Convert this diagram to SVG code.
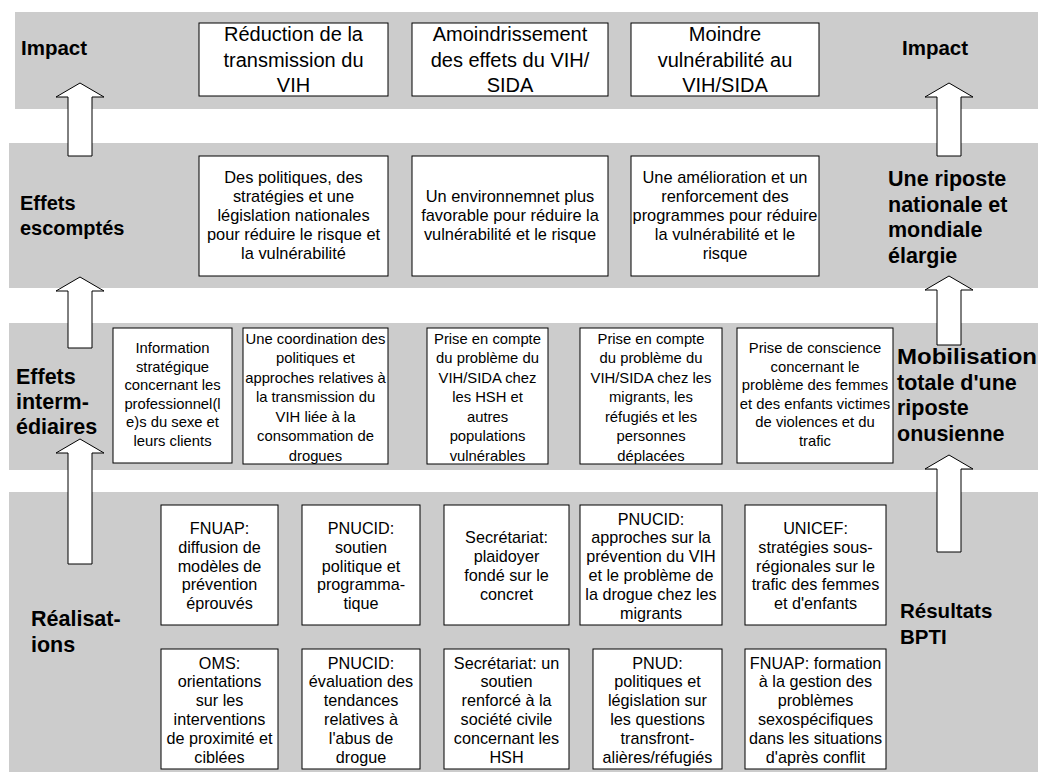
<svg xmlns="http://www.w3.org/2000/svg" width="1053" height="773" viewBox="0 0 1053 773">
<style>
.band{fill:#cccccc;stroke:none}
.box{fill:#ffffff;stroke:#000000;stroke-width:1}
.arrow{fill:#ffffff;stroke:#000000;stroke-width:1;stroke-linejoin:miter}
.t2{font-family:"Liberation Sans",Arial,sans-serif;font-size:16.4px;fill:#000;text-anchor:middle}
.t3{font-family:"Liberation Sans",Arial,sans-serif;font-size:14.8px;fill:#000;text-anchor:middle}
.t4{font-family:"Liberation Sans",Arial,sans-serif;font-size:16.2px;fill:#000;text-anchor:middle}
.tb{font-family:"Liberation Sans",Arial,sans-serif;font-size:20px;fill:#000;text-anchor:middle}
.lbl{font-family:"Liberation Sans",Arial,sans-serif;font-size:20.5px;font-weight:bold;fill:#000}
.lblr{font-family:"Liberation Sans",Arial,sans-serif;font-size:21.5px;font-weight:bold;fill:#000}
</style>
<rect fill="#ffffff" x="0" y="0" width="1053" height="773"/>
<g id="bands">
<rect class="band" x="15" y="12" width="1023" height="97"/>
<rect class="band" x="9" y="143" width="1029" height="145"/>
<rect class="band" x="9" y="323" width="1029" height="147"/>
<rect class="band" x="9" y="492" width="1029" height="280"/>
</g>
<g id="labels">
<text class="lbl" x="21" y="55">Impact</text>
<text class="lbl" x="902" y="55">Impact</text>
<text class="lbl" x="20" y="210" style="font-size:20px">Effets</text>
<text class="lbl" x="20" y="235" style="font-size:20px">escomptés</text>
<text class="lblr" x="888" y="186">Une riposte</text>
<text class="lblr" x="888" y="212">nationale et</text>
<text class="lblr" x="888" y="237">mondiale</text>
<text class="lblr" x="888" y="263">élargie</text>
<text class="lblr" x="16" y="384">Effets</text>
<text class="lblr" x="16" y="409">interm-</text>
<text class="lblr" x="16" y="434">édiaires</text>
<text class="lblr" x="897" y="364" textLength="140" lengthAdjust="spacingAndGlyphs">Mobilisation</text>
<text class="lblr" x="897" y="390">totale d'une</text>
<text class="lblr" x="897" y="415">riposte</text>
<text class="lblr" x="897" y="441">onusienne</text>
<text class="lblr" x="31" y="626">Réalisat-</text>
<text class="lblr" x="31" y="652">ions</text>
<text class="lbl" x="900" y="618">Résultats</text>
<text class="lbl" x="900" y="644">BPTI</text>
</g>
<g id="connectors">
<polygon class="arrow" points="80,83 104,97 92,97 92,156 68,156 68,97 56,97"/>
<polygon class="arrow" points="80,277 104,291 92,291 92,348 68,348 68,291 56,291"/>
<polygon class="arrow" points="80,439 104,453 92,453 92,564 68,564 68,453 56,453"/>
<polygon class="arrow" points="949,83 973,97 961,97 961,156 937,156 937,97 925,97"/>
<polygon class="arrow" points="949,276 973,290 961,290 961,345 937,345 937,290 925,290"/>
<polygon class="arrow" points="949,455 973,469 961,469 961,552 937,552 937,469 925,469"/>
</g>
<g id="impact1"><rect class="box" x="199" y="23" width="189" height="73"/>
<text class="tb" x="293.5" y="41">Réduction de la</text><text class="tb" x="293.5" y="66.5">transmission du</text><text class="tb" x="293.5" y="92">VIH</text></g>
<g id="impact2"><rect class="box" x="412" y="23" width="196" height="73"/>
<text class="tb" x="510" y="41">Amoindrissement</text><text class="tb" x="510" y="66.5">des effets du VIH/</text><text class="tb" x="510" y="92">SIDA</text></g>
<g id="impact3"><rect class="box" x="631" y="23" width="188" height="73"/>
<text class="tb" x="725" y="41">Moindre</text><text class="tb" x="725" y="66.5">vulnérabilité au</text><text class="tb" x="725" y="92">VIH/SIDA</text></g>

<g id="effet1"><rect class="box" x="199" y="156" width="189" height="120"/>
<text class="t2" x="293.5" y="182.5">Des politiques, des</text><text class="t2" x="293.5" y="201.7">stratégies et une</text><text class="t2" x="293.5" y="220.9">législation nationales</text><text class="t2" x="293.5" y="240.1">pour réduire le risque et</text><text class="t2" x="293.5" y="259.3">la vulnérabilité</text></g>
<g id="effet2"><rect class="box" x="412" y="156" width="196" height="120"/>
<text class="t2" x="510" y="201.7">Un environnemnet plus</text><text class="t2" x="510" y="220.9">favorable pour réduire la</text><text class="t2" x="510" y="240.1">vulnérabilité et le risque</text></g>
<g id="effet3"><rect class="box" x="631" y="156" width="188" height="120"/>
<text class="t2" x="725" y="182.5">Une amélioration et un</text><text class="t2" x="725" y="201.7">renforcement des</text><text class="t2" x="725" y="220.9">programmes pour réduire</text><text class="t2" x="725" y="240.1">la vulnérabilité et le</text><text class="t2" x="725" y="259.3">risque</text></g>

<g id="inter1"><rect class="box" x="113" y="328" width="119" height="135"/>
<text class="t3" x="172.5" y="353">Information</text><text class="t3" x="172.5" y="371.6">stratégique</text><text class="t3" x="172.5" y="390.2">concernant les</text><text class="t3" x="172.5" y="408.8">professionnel(l</text><text class="t3" x="172.5" y="427.4">e)s du sexe et</text><text class="t3" x="172.5" y="446">leurs clients</text></g>
<g id="inter2"><rect class="box" x="243" y="328" width="145" height="136"/>
<text class="t3" x="315.5" y="343.5">Une coordination des</text><text class="t3" x="315.5" y="363">politiques et</text><text class="t3" x="315.5" y="382.5">approches relatives à</text><text class="t3" x="315.5" y="402">la transmission du</text><text class="t3" x="315.5" y="421.5">VIH liée à la</text><text class="t3" x="315.5" y="441">consommation de</text><text class="t3" x="315.5" y="460.5">drogues</text></g>
<g id="inter3"><rect class="box" x="427" y="328" width="121" height="136"/>
<text class="t3" x="487.5" y="343.5">Prise en compte</text><text class="t3" x="487.5" y="363">du problème du</text><text class="t3" x="487.5" y="382.5">VIH/SIDA chez</text><text class="t3" x="487.5" y="402">les HSH et</text><text class="t3" x="487.5" y="421.5">autres</text><text class="t3" x="487.5" y="441">populations</text><text class="t3" x="487.5" y="460.5">vulnérables</text></g>
<g id="inter4"><rect class="box" x="580" y="328" width="142" height="136"/>
<text class="t3" x="651" y="343.5">Prise en compte</text><text class="t3" x="651" y="363">du problème du</text><text class="t3" x="651" y="382.5">VIH/SIDA chez les</text><text class="t3" x="651" y="402">migrants, les</text><text class="t3" x="651" y="421.5">réfugiés et les</text><text class="t3" x="651" y="441">personnes</text><text class="t3" x="651" y="460.5">déplacées</text></g>
<g id="inter5"><rect class="box" x="737" y="328" width="156" height="135"/>
<text class="t3" x="815" y="353">Prise de conscience</text><text class="t3" x="815" y="371.6">concernant le</text><text class="t3" x="815" y="390.2">problème des femmes</text><text class="t3" x="815" y="408.8">et des enfants victimes</text><text class="t3" x="815" y="427.4">de violences et du</text><text class="t3" x="815" y="446">trafic</text></g>

<g id="real1"><rect class="box" x="161" y="505" width="117" height="120"/>
<text class="t4" x="219.5" y="534">FNUAP:</text><text class="t4" x="219.5" y="552.8">diffusion de</text><text class="t4" x="219.5" y="571.6">modèles de</text><text class="t4" x="219.5" y="590.4">prévention</text><text class="t4" x="219.5" y="609.2">éprouvés</text></g>
<g id="real2"><rect class="box" x="302" y="505" width="118" height="120"/>
<text class="t4" x="361" y="534">PNUCID:</text><text class="t4" x="361" y="552.8">soutien</text><text class="t4" x="361" y="571.6">politique et</text><text class="t4" x="361" y="590.4">programma-</text><text class="t4" x="361" y="609.2">tique</text></g>
<g id="real3"><rect class="box" x="444" y="505" width="125" height="120"/>
<text class="t4" x="506.5" y="543.4">Secrétariat:</text><text class="t4" x="506.5" y="562.2">plaidoyer</text><text class="t4" x="506.5" y="581">fondé sur le</text><text class="t4" x="506.5" y="599.8">concret</text></g>
<g id="real4"><rect class="box" x="580" y="505" width="142" height="120"/>
<text class="t4" x="651" y="524.6">PNUCID:</text><text class="t4" x="651" y="543.4">approches sur la</text><text class="t4" x="651" y="562.2">prévention du VIH</text><text class="t4" x="651" y="581">et le problème de</text><text class="t4" x="651" y="599.8">la drogue chez les</text><text class="t4" x="651" y="618.6">migrants</text></g>
<g id="real5"><rect class="box" x="745" y="505" width="141" height="120"/>
<text class="t4" x="815.5" y="534">UNICEF:</text><text class="t4" x="815.5" y="552.8">stratégies sous-</text><text class="t4" x="815.5" y="571.6">régionales sur le</text><text class="t4" x="815.5" y="590.4">trafic des femmes</text><text class="t4" x="815.5" y="609.2">et d'enfants</text></g>

<g id="real6"><rect class="box" x="161" y="649" width="117" height="120"/>
<text class="t4" x="219.5" y="668.6">OMS:</text><text class="t4" x="219.5" y="687.4">orientations</text><text class="t4" x="219.5" y="706.2">sur les</text><text class="t4" x="219.5" y="725">interventions</text><text class="t4" x="219.5" y="743.8">de proximité et</text><text class="t4" x="219.5" y="762.6">ciblées</text></g>
<g id="real7"><rect class="box" x="302" y="649" width="118" height="120"/>
<text class="t4" x="361" y="668.6">PNUCID:</text><text class="t4" x="361" y="687.4">évaluation des</text><text class="t4" x="361" y="706.2">tendances</text><text class="t4" x="361" y="725">relatives à</text><text class="t4" x="361" y="743.8">l'abus de</text><text class="t4" x="361" y="762.6">drogue</text></g>
<g id="real8"><rect class="box" x="444" y="649" width="125" height="120"/>
<text class="t4" x="506.5" y="668.6">Secrétariat: un</text><text class="t4" x="506.5" y="687.4">soutien</text><text class="t4" x="506.5" y="706.2">renforcé à la</text><text class="t4" x="506.5" y="725">société civile</text><text class="t4" x="506.5" y="743.8">concernant les</text><text class="t4" x="506.5" y="762.6">HSH</text></g>
<g id="real9"><rect class="box" x="593" y="649" width="129" height="120"/>
<text class="t4" x="657.5" y="668.6">PNUD:</text><text class="t4" x="657.5" y="687.4">politiques et</text><text class="t4" x="657.5" y="706.2">législation sur</text><text class="t4" x="657.5" y="725">les questions</text><text class="t4" x="657.5" y="743.8">transfront-</text><text class="t4" x="657.5" y="762.6">alières/réfugiés</text></g>
<g id="real10"><rect class="box" x="745" y="649" width="141" height="120"/>
<text class="t4" x="815.5" y="668.6">FNUAP: formation</text><text class="t4" x="815.5" y="687.4">à la gestion des</text><text class="t4" x="815.5" y="706.2">problèmes</text><text class="t4" x="815.5" y="725">sexospécifiques</text><text class="t4" x="815.5" y="743.8">dans les situations</text><text class="t4" x="815.5" y="762.6">d'après conflit</text></g>
</svg>
